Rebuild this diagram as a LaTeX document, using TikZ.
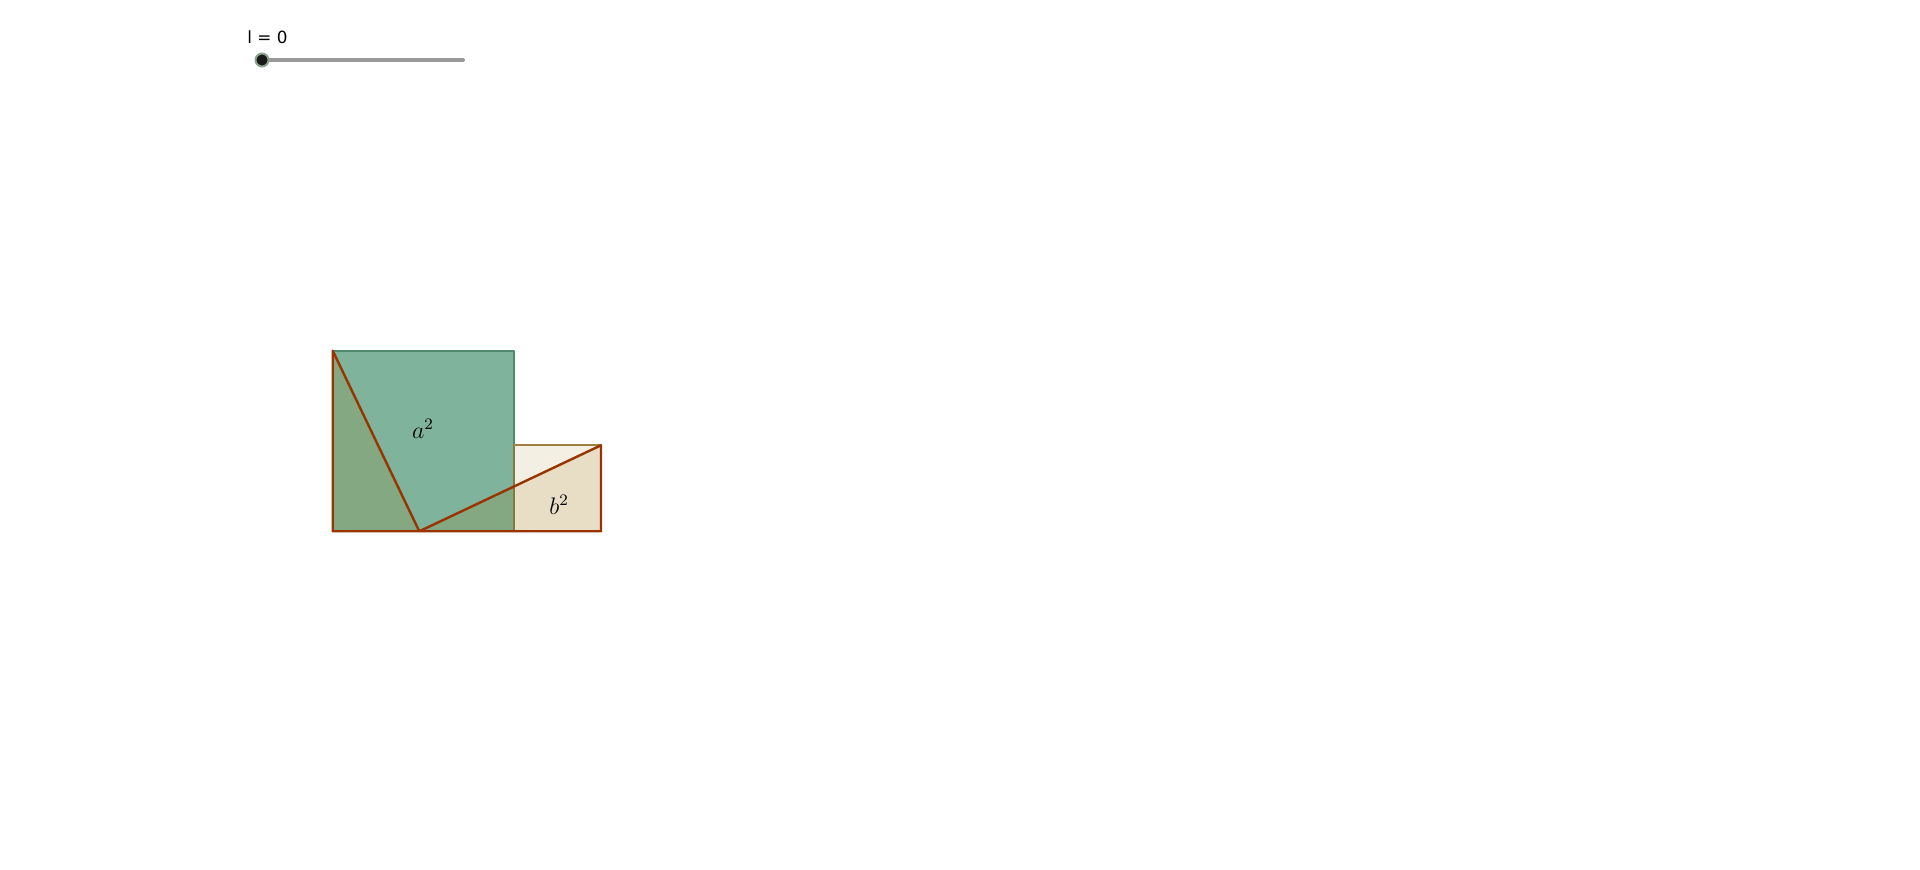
\documentclass[tikz,border=0pt]{standalone}
\usepackage{fontspec}
\newfontfamily\uifont{DejaVu Sans}
\definecolor{sqgreen}{RGB}{128,179,155}
\definecolor{olivegreen}{RGB}{132,168,130}
\definecolor{beige}{RGB}{232,222,198}
\definecolor{lightbeige}{RGB}{243,239,227}
\definecolor{brownline}{RGB}{153,51,0}
\definecolor{tealline}{RGB}{78,138,110}
\definecolor{goldline}{RGB}{160,128,64}
\definecolor{oliveline}{RGB}{128,122,60}
\definecolor{knobring}{RGB}{140,160,140}
\begin{document}
\begin{tikzpicture}[line cap=round,line join=round,x=0.5pt,y=-0.5pt]
\useasboundingbox (0,0) rectangle (1920,870);
\coordinate (A) at (332.7,350.7);
\coordinate (B) at (332.7,531.3);
\coordinate (P) at (419.3,531.3);
\coordinate (E) at (514,531.3);
\coordinate (F) at (514,350.7);
\coordinate (G) at (514,445.3);
\coordinate (H) at (601,445.3);
\coordinate (K) at (601,531.3);
\coordinate (M) at (514,486.5);
% slider
\node[anchor=west,inner sep=0pt,font=\uifont\fontsize{8.4}{10}\selectfont] (lbl) at (247,37) {l = 0};
\coordinate (s1) at (263,60);
\coordinate (s2) at (463,60);
\draw[line width=2pt,color=black!40] (s1) -- (s2);
\draw[fill=black!90,draw=knobring,line width=1pt] (262,60) circle (6.5);
% squares
\fill[sqgreen] (A) -- (F) -- (E) -- (B) -- cycle;
\fill[lightbeige] (G) -- (H) -- (K) -- (E) -- cycle;
\fill[beige] (M) -- (H) -- (K) -- (E) -- cycle;
\fill[olivegreen] (A) -- (B) -- (P) -- cycle;
\fill[olivegreen] (P) -- (E) -- (M) -- cycle;
\draw[tealline,line width=1pt] (A) -- (F) -- (G);
\draw[oliveline,line width=1pt] (G) -- (E);
\draw[goldline,line width=1pt] (G) -- (H);
\draw[brownline,line width=1.2pt] (H) -- (K) -- (E) -- (B) -- (A) -- (P) -- (H);
\node[font=\fontsize{11.5}{12}\selectfont] (asq) at (423,429) {$a^2$};
\node[font=\fontsize{11.5}{12}\selectfont] (bsq) at (559,505) {$b^2$};
\end{tikzpicture}
\end{document}
